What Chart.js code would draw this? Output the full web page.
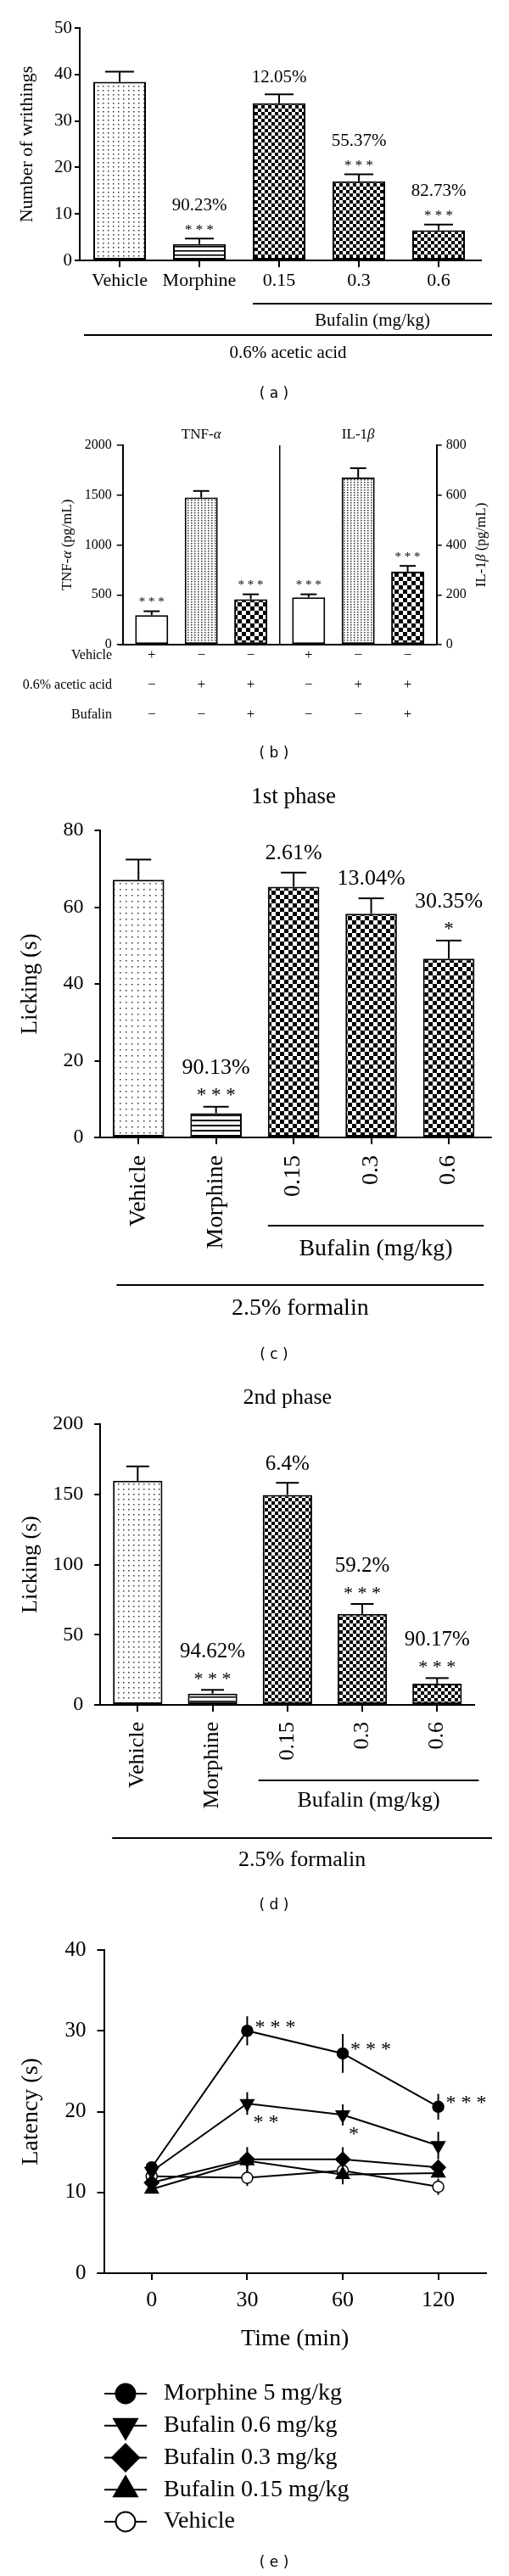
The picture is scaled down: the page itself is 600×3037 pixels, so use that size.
<!DOCTYPE html>
<html>
<head>
<meta charset="utf-8">
<script src="https://cdn.jsdelivr.net/npm/chart.js@4.4.1/dist/chart.umd.min.js"></script>
<style>
html, body { margin:0; padding:0; background:#fff; }
#wrap { position:relative; width:600px; height:3037px; background:#fff; overflow:hidden; }
#wrap canvas { position:absolute; left:0; }
</style>
</head>
<body>
<div id="wrap">
<canvas id="cA" width="600" height="480" style="top:0px;width:600px;height:480px"></canvas>
<canvas id="cB" width="600" height="420" style="top:480px;width:600px;height:420px"></canvas>
<canvas id="cC" width="600" height="710" style="top:900px;width:600px;height:710px"></canvas>
<canvas id="cD" width="600" height="650" style="top:1610px;width:600px;height:650px"></canvas>
<canvas id="cE" width="600" height="777" style="top:2260px;width:600px;height:777px"></canvas>
</div>
<script>
// ================= DATA =================
// (a) acetic-acid writhing test
const aGroups = ['Vehicle', 'Morphine', '0.15', '0.3', '0.6'];
const aWrithings = [38.4, 3.5, 33.8, 17.0, 6.5];
const aWrithingsSEM = [2.2, 1.2, 1.9, 1.5, 1.2];
const aInhibition = ['', '90.23%', '12.05%', '55.37%', '82.73%'];
const aSignif = ['', '***', '', '***', '***'];
const aYTicks = [0, 10, 20, 30, 40, 50];

// (b) TNF-alpha / IL-1beta
const bCytokines = ['TNF-α', 'IL-1β'];
const bRows = ['Vehicle', '0.6% acetic acid', 'Bufalin'];
const bVehicleSigns = ['+', '−', '−'];
const bAceticSigns = ['−', '+', '+'];
const bBufalinSigns = ['−', '−', '+'];
const bTNF = [296, 1476, 455];
const bTNFSEM = [39, 66, 50];
const bIL1b = [190, 671, 293];
const bIL1bSEM = [12, 37, 23];
const bSignif = ['***', '', '***'];
const bTNFTicks = [0, 500, 1000, 1500, 2000];
const bIL1bTicks = [0, 200, 400, 600, 800];

// (c) formalin test, 1st phase
const cGroups = ['Vehicle', 'Morphine', '0.15', '0.3', '0.6'];
const cLicking = [67.1, 6.3, 65.3, 58.3, 46.6];
const cLickingSEM = [5.3, 1.7, 3.7, 4.0, 4.7];
const cInhibition = ['', '90.13%', '2.61%', '13.04%', '30.35%'];
const cSignif = ['', '***', '', '', '*'];
const cYTicks = [0, 20, 40, 60, 80];

// (d) formalin test, 2nd phase
const dGroups = ['Vehicle', 'Morphine', '0.15', '0.3', '0.6'];
const dLicking = [159.6, 8.0, 149.6, 64.8, 15.1];
const dLickingSEM = [10.3, 2.7, 8.6, 7.1, 4.0];
const dInhibition = ['', '94.62%', '6.4%', '59.2%', '90.17%'];
const dSignif = ['', '***', '', '***', '***'];
const dYTicks = [0, 50, 100, 150, 200];

// (e) hot-plate latency
const eTimes = ['0', '30', '60', '120'];
const eNames = ['Morphine 5 mg/kg', 'Bufalin 0.6 mg/kg', 'Bufalin 0.3 mg/kg', 'Bufalin 0.15 mg/kg', 'Vehicle'];
const eMorphine = [13.1, 30.0, 27.2, 20.6];
const eMorphineSEM = [0.6, 1.8, 2.4, 1.6];
const eBuf06 = [12.6, 21.0, 19.6, 15.8];
const eBuf06SEM = [0.5, 1.4, 1.3, 1.7];
const eBuf03 = [11.2, 14.1, 14.1, 13.1];
const eBuf03SEM = [0.5, 1.5, 1.5, 0.5];
const eBuf015 = [10.4, 13.9, 12.2, 12.4];
const eBuf015SEM = [0.5, 1.0, 1.2, 0.6];
const eVehicle = [12.0, 11.8, 12.7, 10.7];
const eVehicleSEM = [0.5, 1.0, 0.8, 1.0];
const eMorphineSignif = ['', '***', '***', '***'];
const eBuf06Signif = ['', '**', '*', ''];
const eYTicks = [0, 10, 20, 30, 40];

// ================= HELPERS =================
const SERIF = '"Liberation Serif", "Times New Roman", serif';
const SANS = '"DejaVu Sans", Verdana, sans-serif';
Chart.defaults.font.family = SERIF;
Chart.defaults.color = '#000';
const F = (s) => ({ family: SERIF, size: s, lineHeight: 1, weight: 'normal' });
const plain = v => String(v);

function line(ctx, x1, y1, x2, y2, w) {
  ctx.save(); ctx.strokeStyle = '#000'; ctx.lineWidth = w || 2; ctx.lineCap = 'butt';
  ctx.beginPath(); ctx.moveTo(x1, y1); ctx.lineTo(x2, y2); ctx.stroke(); ctx.restore();
}
function text(ctx, s, x, y, size, align, rot, family) {
  ctx.save(); ctx.fillStyle = '#000';
  ctx.font = size + 'px ' + (family || SERIF);
  ctx.textAlign = align || 'center'; ctx.textBaseline = 'middle';
  ctx.translate(x, y); if (rot) ctx.rotate(rot);
  ctx.fillText(s, 0, 0); ctx.restore();
}
function stars(ctx, s, x, y, size, align) {
  text(ctx, s.split('').join(' '), x, y + 0.17 * size, size, align || 'center');
}
// text with italic greek letters, centred
function mixed(ctx, s, x, y, size, rot) {
  const parts = s.split(/([α-ω])/).filter(p => p.length);
  ctx.save(); ctx.fillStyle = '#000'; ctx.textBaseline = 'middle'; ctx.textAlign = 'left';
  ctx.translate(x, y); if (rot) ctx.rotate(rot);
  const fnt = p => (/[α-ω]/.test(p) ? 'italic ' : '') + size + 'px ' + SERIF;
  let w = 0; parts.forEach(p => { ctx.font = fnt(p); w += ctx.measureText(p).width; });
  let cx = -w / 2;
  parts.forEach(p => { ctx.font = fnt(p); ctx.fillText(p, cx, 0); cx += ctx.measureText(p).width; });
  ctx.restore();
}
function tile(w, h, draw) {
  const c = document.createElement('canvas'); c.width = w; c.height = h;
  const g = c.getContext('2d'); g.fillStyle = '#fff'; g.fillRect(0, 0, w, h); g.fillStyle = '#000'; draw(g);
  return c;
}
const dots = (ctx, sx, sy) => ctx.createPattern(tile(sx, sy, g => { g.fillStyle = '#333'; g.fillRect(1, 1, 1.5, 1.5); }), 'repeat');
const hlines = (ctx, s, lw) => ctx.createPattern(tile(4, s, g => g.fillRect(0, 0, 4, lw)), 'repeat');
const checker = (ctx, c) => ctx.createPattern(tile(2 * c, 2 * c, g => { g.fillRect(0, 0, c, c); g.fillRect(c, c, c, c); }), 'repeat');
const ticksFrom = arr => (s => { s.ticks = arr.map(v => ({ value: v })); });

// ================= BAR PANELS (a), (c), (d) =================
function barPanel(o) {
  const el = document.getElementById(o.id);
  const ctx = el.getContext('2d');
  const H = el.height;
  const fills = [dots(ctx, o.dot[0], o.dot[1]), hlines(ctx, o.hl[0], o.hl[1]),
                 checker(ctx, o.chk), checker(ctx, o.chk), checker(ctx, o.chk)];
  return new Chart(ctx, {
    type: 'bar',
    data: { labels: o.labels, datasets: [{ data: o.values, backgroundColor: fills, borderColor: '#000',
      borderWidth: 2, borderSkipped: false, categoryPercentage: 1, barPercentage: o.barPct }] },
    options: {
      responsive: false, animation: false, devicePixelRatio: 1,
      layout: { padding: { top: o.title ? 0 : o.area.top, right: 600 - o.area.right, left: 0, bottom: 0 } },
      plugins: {
        legend: { display: false }, tooltip: { enabled: false },
        title: o.title ? { display: true, text: o.title, color: '#000', font: F(o.titleSize), fullSize: false,
          padding: { top: o.titleY - o.titleSize / 2, bottom: o.area.top - o.titleY - o.titleSize / 2 } } : { display: false }
      },
      scales: {
        x: {
          grid: { display: true, drawOnChartArea: false, offset: false, tickLength: 8, color: '#000', lineWidth: 2 },
          border: { display: true, color: '#000', width: 2 },
          ticks: { color: '#000', font: F(o.catSize), padding: o.catPad, autoSkip: false,
                   maxRotation: o.rotate ? 90 : 0, minRotation: o.rotate ? 90 : 0 },
          afterFit: s => { s.height = H - o.area.bottom; }
        },
        y: {
          min: 0, max: o.yTicks[o.yTicks.length - 1],
          afterBuildTicks: ticksFrom(o.yTicks),
          ticks: { color: '#000', font: F(o.tickSize), padding: o.tickPad, callback: plain },
          grid: { display: true, drawOnChartArea: false, tickLength: o.yTickLen, color: '#000', lineWidth: 2 },
          border: { display: true, color: '#000', width: 2 },
          title: { display: true, text: o.yTitle, color: '#000', font: F(o.yTitleSize),
                   padding: { top: o.yTitleX - o.yTitleSize / 2, bottom: 0 } },
          afterFit: s => { s.width = o.area.left; }
        }
      }
    },
    plugins: [{
      id: 'decor' + o.id,
      afterDatasetsDraw(chart) {
        const ctx = chart.ctx, ca = chart.chartArea, y = chart.scales.y;
        const meta = chart.getDatasetMeta(0);
        line(ctx, ca.left - o.extL, ca.bottom, ca.left, ca.bottom, 2);
        if (o.extR) line(ctx, ca.right, ca.bottom, ca.right + o.extR, ca.bottom, 2);
        meta.data.forEach((bar, i) => {
          const top = y.getPixelForValue(o.values[i] + o.sem[i]);
          line(ctx, bar.x, bar.y, bar.x, top, 2);
          line(ctx, bar.x - o.capW / 2, top, bar.x + o.capW / 2, top, 2);
          let yy;
          if (o.sig[i]) { yy = top - o.starGap; stars(ctx, o.sig[i], bar.x, yy, o.starSize); yy -= o.pctAboveStar; }
          else yy = top - o.pctGap;
          if (o.pct[i]) text(ctx, o.pct[i], bar.x, yy, o.pctSize);
        });
        const b = meta.data[2];
        const bx1 = b.x - b.width / 2 + o.bufDx1, bx2 = ca.right + o.bufDx2;
        line(ctx, bx1, o.bufY, bx2, o.bufY, 2);
        text(ctx, 'Bufalin (mg/kg)', (bx1 + bx2) / 2, o.bufTextY, o.bracketSize);
        const v = meta.data[0];
        const gx1 = v.x - v.width / 2 + o.grpDx1, gx2 = ca.right + o.grpDx2;
        line(ctx, gx1, o.grpY, gx2, o.grpY, 2);
        text(ctx, o.grpText, (gx1 + gx2) / 2, o.grpTextY, o.bracketSize);
        text(ctx, o.panel, 323, o.panelY, 17, 'center', 0, SANS);
      }
    }]
  });
}

barPanel({
  id: 'cA', area: { left: 94, right: 564, top: 33, bottom: 307 },
  labels: aGroups, values: aWrithings, sem: aWrithingsSEM, pct: aInhibition, sig: aSignif, yTicks: aYTicks,
  dot: [6, 5], hl: [5, 1.6], chk: 4, barPct: 0.66,
  catSize: 22, catPad: 5, rotate: false, tickSize: 21, tickPad: 3, yTickLen: 6,
  yTitle: 'Number of writhings', yTitleSize: 22, yTitleX: 32.5,
  capW: 34, starGap: 13, starSize: 17, pctAboveStar: 26, pctGap: 20, pctSize: 21,
  extL: 6, extR: 4, bufY: 358, bufTextY: 378, bufDx1: 0, bufDx2: 16,
  grpY: 395, grpTextY: 416, grpDx1: -11, grpDx2: 16, grpText: '0.6% acetic acid', bracketSize: 21,
  panel: '( a )', panelY: 465
});

barPanel({
  id: 'cC', area: { left: 117.5, right: 574.7, top: 79, bottom: 441 },
  title: '1st phase', titleSize: 27, titleY: 40,
  labels: cGroups, values: cLicking, sem: cLickingSEM, pct: cInhibition, sig: cSignif, yTicks: cYTicks,
  dot: [7, 7], hl: [6, 2], chk: 5, barPct: 0.663,
  catSize: 28, catPad: 13, rotate: true, tickSize: 24, tickPad: 13, yTickLen: 6,
  yTitle: 'Licking (s)', yTitleSize: 27, yTitleX: 36.4,
  capW: 30, starGap: 16.5, starSize: 23, pctAboveStar: 29, pctGap: 22.5, pctSize: 26,
  extL: 6.5, extR: 5, bufY: 545, bufTextY: 573, bufDx1: 0, bufDx2: -4.5,
  grpY: 615, grpTextY: 643, grpDx1: 4.5, grpDx2: -4.5, grpText: '2.5% formalin', bracketSize: 28,
  panel: '( c )', panelY: 698
});

barPanel({
  id: 'cD', area: { left: 118.2, right: 559.4, top: 69, bottom: 400 },
  title: '2nd phase', titleSize: 26, titleY: 38,
  labels: dGroups, values: dLicking, sem: dLickingSEM, pct: dInhibition, sig: dSignif, yTicks: dYTicks,
  dot: [6, 6], hl: [5, 1.6], chk: 4, barPct: 0.66,
  catSize: 26, catPad: 12, rotate: true, tickSize: 24, tickPad: 13, yTickLen: 7,
  yTitle: 'Licking (s)', yTitleSize: 26, yTitleX: 36,
  capW: 27, starGap: 15.7, starSize: 22, pctAboveStar: 29, pctGap: 22, pctSize: 25,
  extL: 7, extR: 0, bufY: 489, bufTextY: 513, bufDx1: -5, bufDx2: 5,
  grpY: 557, grpTextY: 583, grpDx1: -1, grpDx2: 20.6, grpText: '2.5% formalin', bracketSize: 26,
  panel: '( d )', panelY: 637
});

// ================= PANEL (b) =================
(function () {
  const el = document.getElementById('cB');
  const ctx = el.getContext('2d');
  const H = el.height;
  const area = { left: 144.7, right: 514.7, top: 45, bottom: 280 };
  const fills = ['#fff', dots(ctx, 4, 3), checker(ctx, 5)];
  const datasets = [];
  bTNF.forEach((v, i) => datasets.push({ data: [v, null], yAxisID: 'y', backgroundColor: fills[i] }));
  bIL1b.forEach((v, i) => datasets.push({ data: [null, v], yAxisID: 'y2', backgroundColor: fills[i] }));
  datasets.forEach(d => Object.assign(d, { borderColor: '#000', borderWidth: 2, borderSkipped: false,
    skipNull: true, categoryPercentage: 0.947, barPercentage: 0.667 }));
  const allSEM = bTNFSEM.concat(bIL1bSEM);
  new Chart(ctx, {
    type: 'bar',
    data: { labels: bCytokines, datasets },
    options: {
      responsive: false, animation: false, devicePixelRatio: 1,
      layout: { padding: { top: area.top, left: 0, right: 0, bottom: 0 } },
      plugins: { legend: { display: false }, tooltip: { enabled: false } },
      scales: {
        x: {
          ticks: { display: false },
          grid: { display: true, drawOnChartArea: true, drawTicks: false, offset: true, color: '#000', lineWidth: 1.5 },
          border: { display: true, color: '#000', width: 2 },
          afterFit: s => { s.height = H - area.bottom; }
        },
        y: {
          position: 'left', min: 0, max: 2000, afterBuildTicks: ticksFrom(bTNFTicks),
          ticks: { color: '#000', font: F(16), padding: 6, callback: plain },
          grid: { display: true, drawOnChartArea: false, tickLength: 7, color: '#000', lineWidth: 1.5 },
          border: { display: true, color: '#000', width: 2 },
          afterFit: s => { s.width = area.left; }
        },
        y2: {
          position: 'right', min: 0, max: 800, afterBuildTicks: ticksFrom(bIL1bTicks),
          ticks: { color: '#000', font: F(16), padding: 5, callback: plain },
          grid: { display: true, drawOnChartArea: false, tickLength: 6, color: '#000', lineWidth: 1.5 },
          border: { display: true, color: '#000', width: 2 },
          afterFit: s => { s.width = 600 - area.right; }
        }
      }
    },
    plugins: [{
      id: 'decorB',
      afterDatasetsDraw(chart) {
        const ctx = chart.ctx, ca = chart.chartArea, x = chart.scales.x;
        line(ctx, ca.left - 5, ca.bottom, ca.left, ca.bottom, 2);
        const signRows = [bVehicleSigns, bAceticSigns, bBufalinSigns];
        const rowY = [293, 328, 363];
        chart.data.datasets.forEach((ds, di) => {
          const meta = chart.getDatasetMeta(di);
          const idx = di < 3 ? 0 : 1;
          const bar = meta.data[idx];
          const sc = chart.scales[di < 3 ? 'y' : 'y2'];
          const top = sc.getPixelForValue(ds.data[idx] + allSEM[di]);
          line(ctx, bar.x, bar.y, bar.x, top, 2);
          line(ctx, bar.x - 9.5, top, bar.x + 9.5, top, 2);
          const sig = bSignif[di % 3];
          if (sig) stars(ctx, sig, bar.x, top - 13, 15);
          signRows.forEach((r, k) => text(ctx, r[di % 3], bar.x, rowY[k], 17));
        });
        bRows.forEach((r, k) => text(ctx, r, 132, rowY[k], 16, 'right'));
        bCytokines.forEach((c, i) => mixed(ctx, c, x.getPixelForValue(i), 33, 17));
        const cy = (ca.top + ca.bottom) / 2;
        mixed(ctx, bCytokines[0] + ' (pg/mL)', 80, cy, 17, -Math.PI / 2);
        mixed(ctx, bCytokines[1] + ' (pg/mL)', 568, cy, 17, -Math.PI / 2);
        text(ctx, '( b )', 323, 409, 17, 'center', 0, SANS);
      }
    }]
  });
})();

// ================= PANEL (e) =================
(function () {
  const el = document.getElementById('cE');
  const ctx = el.getContext('2d');
  const area = { left: 122.5, right: 572.9, top: 39, bottom: 420 };
  const series = [
    { label: eNames[0], data: eMorphine, sem: eMorphineSEM, style: 'circle', rot: 0, r: 6.5, fill: '#000', lr: 11.5 },
    { label: eNames[1], data: eBuf06, sem: eBuf06SEM, style: 'triangle', rot: 180, r: 9, fill: '#000', lr: 16 },
    { label: eNames[2], data: eBuf03, sem: eBuf03SEM, style: 'rectRot', rot: 0, r: 8.5, fill: '#000', lr: 16 },
    { label: eNames[3], data: eBuf015, sem: eBuf015SEM, style: 'triangle', rot: 0, r: 9, fill: '#000', lr: 16 },
    { label: eNames[4], data: eVehicle, sem: eVehicleSEM, style: 'circle', rot: 0, r: 6.5, fill: '#fff', lr: 11.5 }
  ];
  new Chart(ctx, {
    type: 'line',
    data: {
      labels: eTimes,
      datasets: series.map(s => ({
        label: s.label, data: s.data, borderColor: '#000', borderWidth: 2, tension: 0, fill: false,
        pointStyle: s.style, pointRotation: s.rot, pointRadius: s.r, pointBackgroundColor: s.fill,
        pointBorderColor: '#000', pointBorderWidth: 1.5
      }))
    },
    options: {
      responsive: false, animation: false, devicePixelRatio: 1,
      layout: { padding: { top: area.top, right: 600 - area.right, left: 0, bottom: 260 } },
      plugins: { legend: { display: false }, tooltip: { enabled: false } },
      scales: {
        x: {
          offset: true,
          grid: { display: true, drawOnChartArea: false, offset: false, tickLength: 8, color: '#000', lineWidth: 2 },
          border: { display: true, color: '#000', width: 2 },
          ticks: { color: '#000', font: F(26), padding: 11, autoSkip: false, maxRotation: 0 },
          title: { display: true, text: 'Time (min)', color: '#000', font: F(28), padding: { top: 0, bottom: 5 } },
          afterFit: s => { s.height = 97; }
        },
        y: {
          min: 0, max: 40, afterBuildTicks: ticksFrom(eYTicks),
          ticks: { color: '#000', font: F(25), padding: 13, callback: plain },
          grid: { display: true, drawOnChartArea: false, tickLength: 8, color: '#000', lineWidth: 2 },
          border: { display: true, color: '#000', width: 2 },
          title: { display: true, text: 'Latency (s)', color: '#000', font: F(28), padding: { top: 22.4, bottom: 0 } },
          afterFit: s => { s.width = area.left; }
        }
      }
    },
    plugins: [{
      id: 'decorE',
      beforeDatasetsDraw(chart) {
        const ctx = chart.ctx, ca = chart.chartArea, y = chart.scales.y;
        line(ctx, ca.left - 8, ca.bottom, ca.left, ca.bottom, 2);
        series.forEach((s, di) => {
          chart.getDatasetMeta(di).data.forEach((pt, i) => {
            line(ctx, pt.x, y.getPixelForValue(s.data[i] - s.sem[i]), pt.x, y.getPixelForValue(s.data[i] + s.sem[i]), 2);
          });
        });
      },
      afterDatasetsDraw(chart) {
        const ctx = chart.ctx;
        chart.getDatasetMeta(0).data.forEach((pt, i) => {
          if (eMorphineSignif[i]) stars(ctx, eMorphineSignif[i], pt.x + 9, pt.y - 8, 24, 'left');
        });
        chart.getDatasetMeta(1).data.forEach((pt, i) => {
          if (eBuf06Signif[i]) stars(ctx, eBuf06Signif[i], pt.x + 7, pt.y + 19, 24, 'left');
        });
        // legend
        series.forEach((s, k) => {
          const yy = 562 + k * 37.75;
          line(ctx, 123, yy, 173, yy, 2);
          ctx.save(); ctx.fillStyle = s.fill; ctx.strokeStyle = '#000'; ctx.lineWidth = 2;
          Chart.helpers.drawPoint(ctx, { pointStyle: s.style, rotation: s.rot, radius: s.lr, borderWidth: 2 }, 148, yy);
          ctx.restore();
          text(ctx, s.label, 193, yy, 28, 'left');
        });
        text(ctx, '( e )', 323, 762, 17, 'center', 0, SANS);
      }
    }]
  });
})();
</script>
</body>
</html>
